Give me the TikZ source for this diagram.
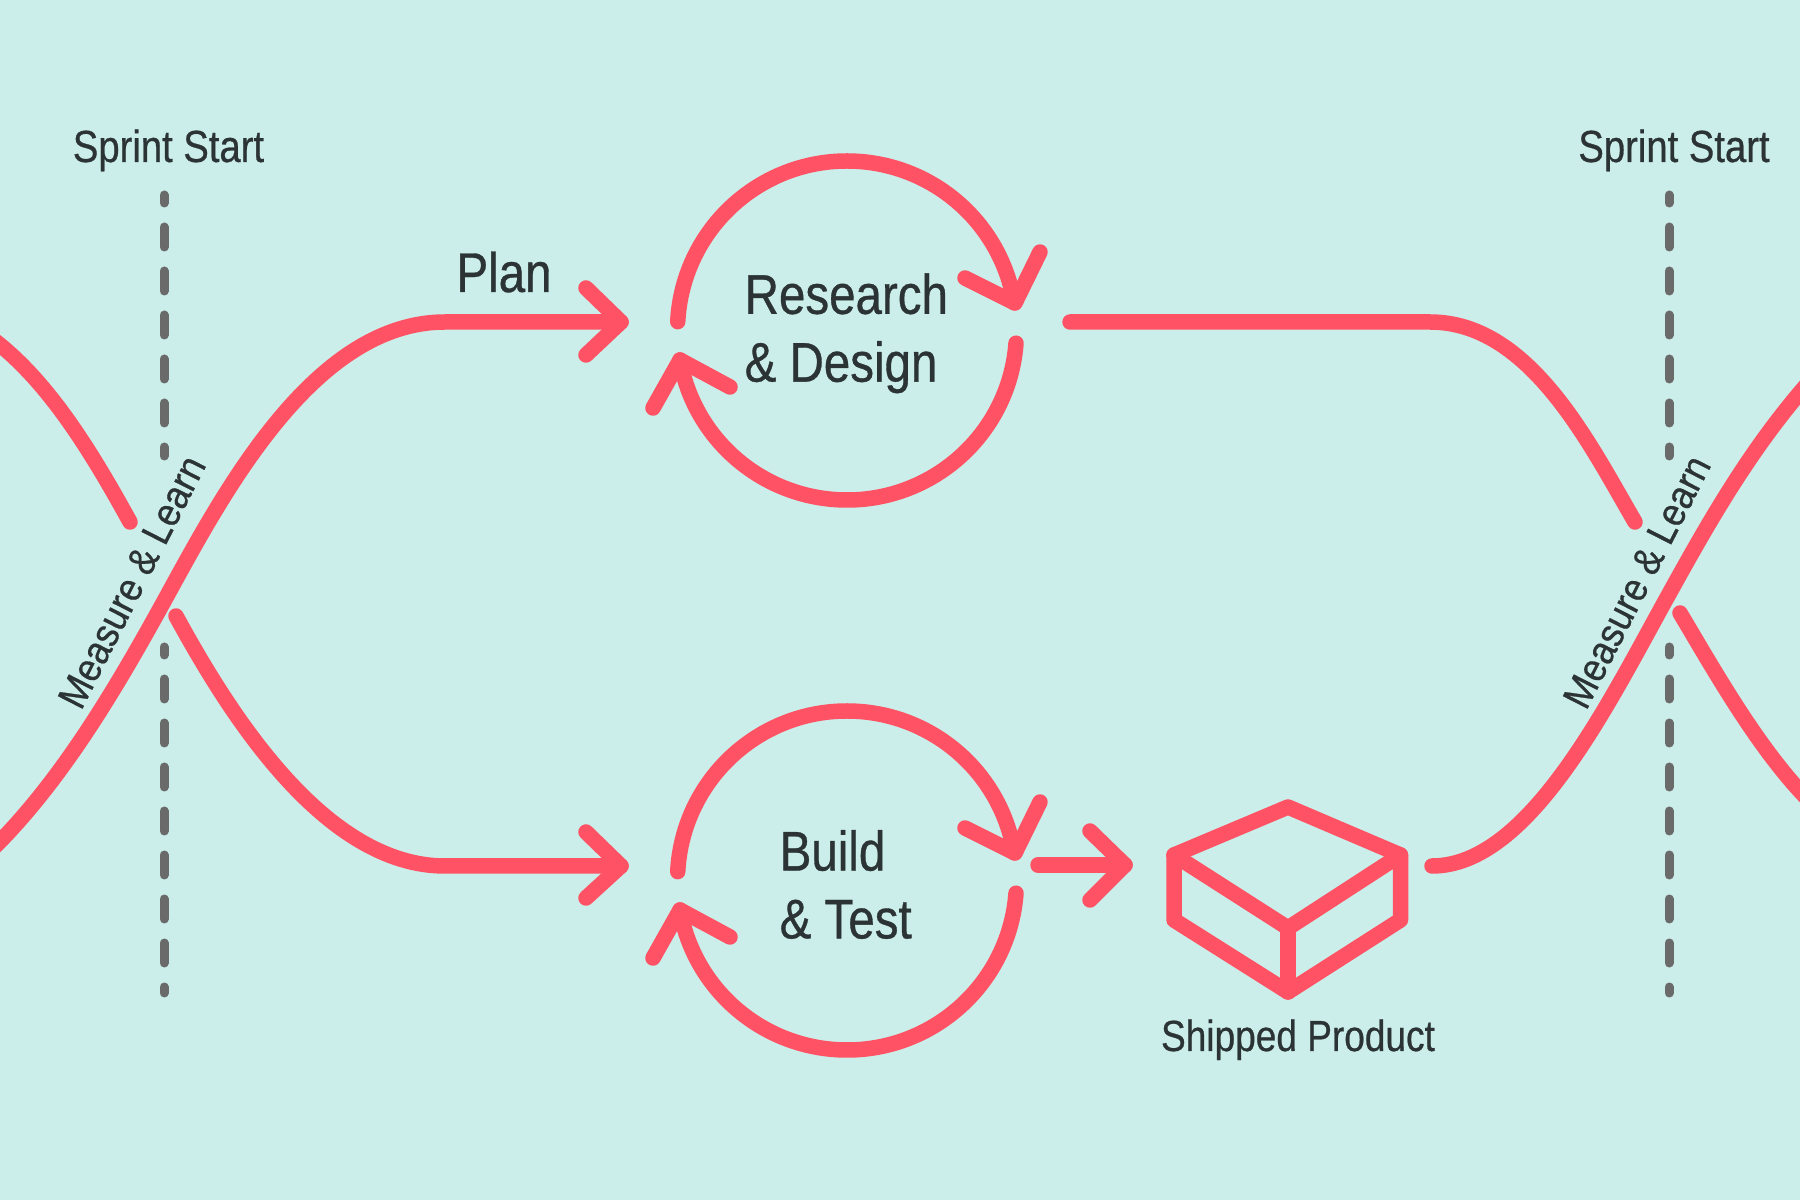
\documentclass[tikz,border=0pt]{standalone}
\usepackage{fontspec}
\setmainfont[FakeStretch=0.85,FakeBold=0.6]{Liberation Sans}
\newfontfamily\slantfont[FakeStretch=0.9,FakeBold=0.6]{Liberation Sans}
\definecolor{sprintbg}{HTML}{CBEEEA}
\definecolor{sprintred}{HTML}{FF5264}
\definecolor{sprintink}{HTML}{2B3335}
\definecolor{sprintgrey}{HTML}{6A6A6A}
\tikzset{
  flow/.style={draw=sprintred, line width=0.155cm, line cap=round, line join=round},
  marker/.style={draw=sprintgrey, line width=0.09cm, line cap=round, dash pattern=on 0.2cm off 0.24cm, dash phase=0.12cm},
  biglabel/.style={text=sprintink, inner sep=0pt, font=\fontsize{15.9}{19.3}\selectfont},
  sprintlabel/.style={text=sprintink, inner sep=0pt, font=\fontsize{12.8}{15}\selectfont},
  smalllabel/.style={text=sprintink, inner sep=0pt, font=\fontsize{12.4}{15}\selectfont},
  slantlabel/.style={text=sprintink, inner sep=0pt, rotate=63, anchor=base, font=\slantfont\fontsize{11.4}{13}\selectfont},
}
\begin{document}
\begin{tikzpicture}
  \useasboundingbox (0,0) rectangle (18,12);
  \fill[sprintbg] (0,0) rectangle (18,12);
  \clip (0,0) rectangle (18,12);

  % sprint markers
  \node[sprintlabel, anchor=base] (startl) at (1.685,10.38) {Sprint Start};
  \node[sprintlabel, anchor=base] (startr) at (16.74,10.38) {Sprint Start};
  \draw[marker] (1.64,10.05) -- (1.64,7.44);
  \draw[marker] (1.64,5.53) -- (1.64,2.07);
  \draw[marker] (16.69,10.05) -- (16.69,7.44);
  \draw[marker] (16.69,5.53) -- (16.69,2.07);

  % centres of the two loops
  \coordinate (rd) at (8.47,8.695);
  \coordinate (bt) at (8.47,3.195);

  % ends of the curves
  \coordinate (planin) at (-0.30,3.30);
  \coordinate (crossl) at (1.68,6.06);
  \coordinate (plantip) at (6.21,8.78);
  \coordinate (buildin) at (1.76,5.84);
  \coordinate (buildtip) at (6.21,3.34);
  \coordinate (rdout) at (10.70,8.78);
  \coordinate (backr) at (16.35,6.78);
  \coordinate (boxout) at (14.32,3.34);
  \coordinate (crossr) at (16.69,6.06);

  \draw[flow] (planin) .. controls (0.50,4.00) and (1.10,5.00) .. (crossl) .. controls (2.25,7.10) and (3.15,8.78) .. (4.45,8.78) -- (plantip);
  \draw[flow] (5.86,9.12) -- (plantip) -- (5.86,8.45);
  \draw[flow] (buildin) .. controls (2.30,4.85) and (3.25,3.34) .. (4.45,3.34) -- (buildtip);
  \draw[flow] (5.86,3.68) -- (buildtip) -- (5.86,3.02);
  \draw[flow] (-0.20,8.70) .. controls (0.40,8.30) and (0.85,7.60) .. (1.30,6.78);
  \draw[flow] (rdout) -- (14.30,8.78) .. controls (15.30,8.78) and (15.90,7.55) .. (backr);
  \draw[flow] (boxout) .. controls (15.30,3.34) and (16.10,5.00) .. (crossr) .. controls (17.10,6.80) and (17.55,7.60) .. (18.20,8.30);
  \draw[flow] (16.80,5.87) .. controls (17.20,5.20) and (17.70,4.30) .. (18.30,3.80);

  % research loop
  \draw[flow] ([shift={(177:1.695)}]rd) arc (177:9.4:1.695);
  \draw[flow] (9.65,9.22) -- (10.15,8.97) -- (10.40,9.48);
  \draw[flow] ([shift={(-4.3:1.695)}]rd) arc (-4.3:-170:1.695);
  \draw[flow] (7.30,8.13) -- (6.80,8.40) -- (6.53,7.92);

  % build loop
  \draw[flow] ([shift={(177:1.695)}]bt) arc (177:9.4:1.695);
  \draw[flow] (9.65,3.72) -- (10.15,3.47) -- (10.40,3.98);
  \draw[flow] ([shift={(-4.3:1.695)}]bt) arc (-4.3:-170:1.695);
  \draw[flow] (7.30,2.63) -- (6.80,2.90) -- (6.53,2.42);

  % box
  \coordinate (boxtop) at (12.88,3.93);
  \coordinate (boxleft) at (11.74,3.45);
  \coordinate (boxright) at (14.005,3.45);
  \coordinate (boxmid) at (12.88,2.72);
  \coordinate (boxlow) at (12.88,2.08);
  \coordinate (boxlowl) at (11.74,2.80);
  \coordinate (boxlowr) at (14.005,2.80);
  \coordinate (boxin) at (10.38,3.35);
  \coordinate (boxtip) at (11.25,3.35);
  \draw[flow] (boxin) -- (boxtip);
  \draw[flow] (10.90,3.69) -- (boxtip) -- (10.90,3.00);
  \draw[flow] (boxtop) -- (boxright) -- (boxlowr) -- (boxlow) -- (boxlowl) -- (boxleft) -- cycle;
  \draw[flow] (boxleft) -- (boxmid) -- (boxright);
  \draw[flow] (boxmid) -- (boxlow);

  \node[biglabel, anchor=base] (plan) at (5.04,9.08) {Plan};
  \node[biglabel, anchor=west, align=left] (research) at (7.44,8.667) {Research\\\& Design};
  \node[biglabel, anchor=west, align=left] (build) at (7.79,3.155) {Build\\\& Test};
  \node[smalllabel, anchor=base] (shipped) at (12.98,1.49) {Shipped Product};
  \node[slantlabel] (measurel) at (1.44,6.12) {Measure \& Learn};
  \node[slantlabel] (measurer) at (16.49,6.12) {Measure \& Learn};
\end{tikzpicture}
\end{document}
